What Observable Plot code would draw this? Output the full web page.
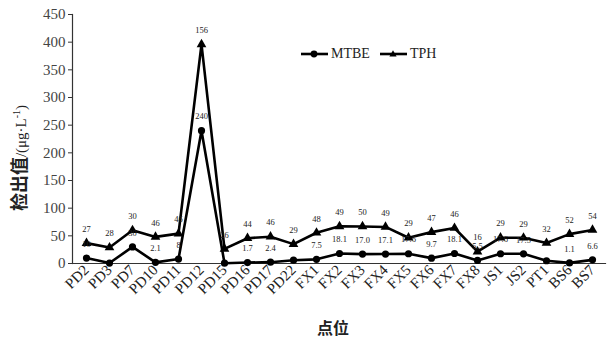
<!DOCTYPE html>
<html><head><meta charset="utf-8">
<script src="https://cdn.jsdelivr.net/npm/d3@7"></script>
<script src="https://cdn.jsdelivr.net/npm/@observablehq/plot@0.6"></script>
<style>
body{margin:0;background:#fff;}
#wrap{position:relative;width:609px;height:338px;overflow:hidden;background:#fff;}
#wrap > svg{position:absolute;left:0;top:0;}
.ytitle{position:absolute;left:18px;top:158px;transform:translate(-50%,-50%) rotate(-90deg);white-space:nowrap;color:#222;font-family:"Liberation Serif",serif;}
.ytitle b{font-family:"Noto Sans CJK SC",sans-serif;font-size:18px;font-weight:700;}
.ytitle span{font-size:15px;}
.xtitle{position:absolute;left:333px;top:327px;transform:translate(-50%,-50%);font-family:"Noto Sans CJK SC",sans-serif;font-weight:700;font-size:16px;color:#222;white-space:nowrap;}
.legend{position:absolute;left:301px;top:46px;display:flex;align-items:center;font-family:"Liberation Serif",serif;font-size:14px;color:#222;}
.legend .item{display:flex;align-items:center;margin-right:10px;}
#wrap .legend svg{position:static;margin-right:3px;}
</style></head><body><div id="wrap"></div>
<script>
const sites = ["PD2","PD3","PD7","PD10","PD11","PD12","PD15","PD16","PD17","PD22","FX1","FX2","FX3","FX4","FX5","FX6","FX7","FX8","JS1","JS2","PT1","BS6","BS7"];
const mtbe = [9.8,0.8,30,2.1,8,240,0.5,1.7,2.4,6,7.5,18.1,17.0,17.1,17.6,9.7,18.1,5.5,17.6,17.5,5,1.1,6.6];
const mtbeLabels = ["10","","30","2.1","8","240","","1.7","2.4","","7.5","18.1","17.0","17.1","17.6","9.7","18.1","5.5","17.6","17.5","","1.1","6.6"];
const tph = [27,28,30,46,46,156,26,44,46,29,48,49,50,49,29,47,46,16,29,29,32,52,54];
const seriesNames = ["MTBE","TPH"];
const yTicks = [0,50,100,150,200,250,300,350,400,450];

const rows = [];
sites.forEach((s,i)=>{
  rows.push({site:s, series:"MTBE", value:mtbe[i], label:mtbeLabels[i]});
  rows.push({site:s, series:"TPH", value:tph[i], label:String(tph[i])});
});

const stackOpts = (o) => Plot.stackY2({x:"site", y:"value", z:"series", order:seriesNames, ...o});

const chart = Plot.plot({
  width:609, height:338,
  marginLeft:72, marginRight:4, marginTop:14, marginBottom:75,
  style:{fontFamily:"Liberation Serif, serif", background:"white", color:"#222"},
  x:{type:"point", domain:sites, padding:0.42},
  y:{domain:[0,450]},
  symbol:{domain:seriesNames, range:["circle","triangle"]},
  marks:[
    Plot.axisY({ticks:yTicks, tickSize:4, tickPadding:3, fontSize:15, label:null, fill:"#444", stroke:"#333"}),
    Plot.axisX({tickRotate:-45, tickSize:0, tickPadding:4, fontSize:15, label:null, fill:"#222"}),
    Plot.frame({anchor:"left", stroke:"#333", strokeWidth:1.2}),
    Plot.frame({anchor:"bottom", stroke:"#333", strokeWidth:1.2}),
    Plot.lineY(rows, stackOpts({stroke:"black", strokeWidth:2.6})),
    Plot.dot(rows, stackOpts({symbol:"series", fill:"black", r:3.6})),
    Plot.text(rows, stackOpts({text:"label", dy:-14, fontSize:8.5, fill:"#222"}))
  ]
});
const wrap = document.getElementById("wrap");
wrap.appendChild(chart);

// axis titles
const yt = document.createElement("div");
yt.className = "ytitle";
yt.innerHTML = '<b>检出值</b><span>/(μg·L<sup style="font-size:10px">-1</sup>)</span>';
wrap.appendChild(yt);
const xt = document.createElement("div");
xt.className = "xtitle";
xt.textContent = "点位";
wrap.appendChild(xt);

// legend
const lg = document.createElement("div");
lg.className = "legend";
const sym = {MTBE:'<circle cx="13" cy="6" r="3.4" fill="black"/>', TPH:'<path d="M13,2.2 L16.6,8.5 L9.4,8.5 Z" fill="black"/>'};
seriesNames.forEach(n=>{
  const it = document.createElement("div");
  it.className = "item";
  it.innerHTML = `<svg width="27" height="12"><line x1="0" x2="27" y1="6" y2="6" stroke="black" stroke-width="2.6"/>${sym[n]}</svg><span>${n}</span>`;
  lg.appendChild(it);
});
wrap.appendChild(lg);
</script>
</body></html>
